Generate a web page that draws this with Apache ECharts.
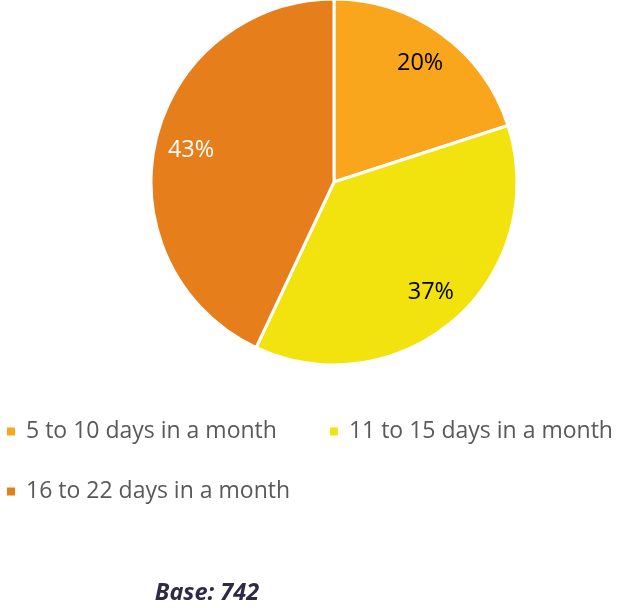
<!DOCTYPE html>
<html>
<head>
<meta charset="utf-8">
<script src="https://cdn.jsdelivr.net/npm/echarts@6/dist/echarts.min.js"></script>
<style>html,body{margin:0;padding:0;background:#fff}#c{width:621px;height:608px}</style>
</head>
<body>
<div id="c"></div>
<script>
const categories = ['5 to 10 days in a month', '11 to 15 days in a month', '16 to 22 days in a month'];
const values = [20, 37, 43];
const colors = ['#F9A61C', '#F2E20E', '#E67E1C'];
const labelColors = ['#000000', '#000000', '#FFFFFF'];
const baseText = 'Base: 742';

const data = categories.map((name, i) => ({
  name, value: values[i],
  itemStyle: { color: colors[i] },
  label: { color: labelColors[i] }
}));

const chart = echarts.init(document.getElementById('c'));
const font = '"Open Sans", sans-serif';
const legendCommon = {
  padding: 0, icon: 'rect', itemWidth: 10, itemHeight: 10, width: 800,
  textStyle: { fontFamily: font, fontSize: 23, color: '#595959', padding: [0, 0, 0, 5] }
};
chart.setOption({
  animation: false,
  title: {
    text: baseText, left: 207, top: 582, textAlign: 'center', padding: 0,
    textStyle: { fontFamily: font, fontSize: 23.5, fontStyle: 'italic', fontWeight: 'bold', color: '#2E2A45' }
  },
  legend: [
    Object.assign({ data: categories.slice(0, 2), left: 5, top: 420, itemGap: 51 }, legendCommon),
    Object.assign({ data: categories.slice(2), left: 5, top: 480 }, legendCommon)
  ],
  series: [
    {
      type: 'pie', center: [334, 182], radius: [0, 183], startAngle: 90, clockwise: true,
      data: data.map(d => ({ name: d.name, value: d.value, itemStyle: d.itemStyle })),
      itemStyle: { borderColor: '#fff', borderWidth: 3 },
      label: { show: false }, labelLine: { show: false }, emphasis: { disabled: true }
    },
    {
      type: 'pie', center: [334, 182], radius: [104, 183], startAngle: 90, clockwise: true,
      silent: true, legendHoverLink: false,
      data: data.map(d => ({ name: d.name, value: d.value, label: d.label })),
      itemStyle: { color: 'rgba(0,0,0,0)', borderWidth: 0 },
      label: { show: true, position: 'inside', formatter: '{c}%', fontFamily: font, fontSize: 23.5 },
      labelLine: { show: false }, emphasis: { disabled: true }
    }
  ]
});
</script>
</body>
</html>
